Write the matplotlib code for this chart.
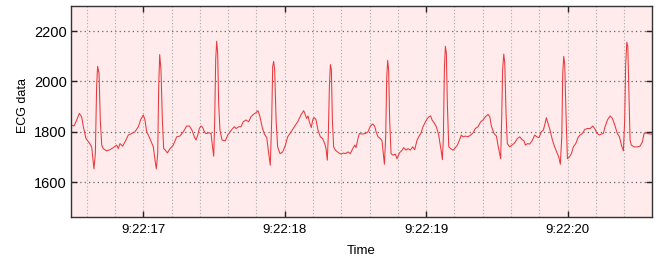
import numpy as np
import matplotlib
matplotlib.use("Agg")
import matplotlib.pyplot as plt
from matplotlib.ticker import MultipleLocator, FuncFormatter

# Time in seconds past 9:22:00, ECG reading
t_sec = [
    16.489, 16.510, 16.524, 16.548, 16.564, 16.576, 16.595, 16.618, 16.635, 16.651,
    16.661, 16.670, 16.677, 16.687, 16.696, 16.706, 16.717, 16.741, 16.765, 16.788,
    16.812, 16.823, 16.835, 16.854, 16.871, 16.894, 16.918, 16.941, 16.965, 16.981,
    17.000, 17.012, 17.024, 17.047, 17.071, 17.083, 17.092, 17.102, 17.109, 17.116,
    17.125, 17.135, 17.144, 17.156, 17.170, 17.189, 17.212, 17.236, 17.259, 17.283,
    17.307, 17.326, 17.344, 17.361, 17.373, 17.385, 17.396, 17.408, 17.420, 17.432,
    17.443, 17.467, 17.479, 17.491, 17.498, 17.505, 17.512, 17.519, 17.526, 17.533,
    17.542, 17.557, 17.580, 17.597, 17.613, 17.632, 17.644, 17.656, 17.674, 17.691,
    17.707, 17.726, 17.745, 17.762, 17.778, 17.797, 17.811, 17.825, 17.840, 17.856,
    17.873, 17.887, 17.898, 17.908, 17.915, 17.922, 17.929, 17.939, 17.950, 17.967,
    17.986, 18.005, 18.021, 18.045, 18.068, 18.092, 18.115, 18.134, 18.146, 18.155,
    18.165, 18.174, 18.188, 18.198, 18.207, 18.221, 18.235, 18.252, 18.268, 18.283,
    18.292, 18.301, 18.308, 18.316, 18.323, 18.330, 18.337, 18.346, 18.358, 18.382,
    18.400, 18.417, 18.429, 18.448, 18.464, 18.481, 18.495, 18.504, 18.518, 18.528,
    18.547, 18.570, 18.589, 18.606, 18.622, 18.636, 18.646, 18.660, 18.676, 18.688,
    18.697, 18.705, 18.714, 18.721, 18.728, 18.735, 18.742, 18.752, 18.766, 18.782,
    18.794, 18.811, 18.830, 18.841, 18.858, 18.872, 18.888, 18.905, 18.919, 18.936,
    18.954, 18.962, 18.978, 18.995, 19.009, 19.021, 19.032, 19.042, 19.056, 19.072,
    19.089, 19.098, 19.108, 19.115, 19.122, 19.129, 19.136, 19.143, 19.150, 19.160,
    19.174, 19.190, 19.202, 19.221, 19.237, 19.249, 19.261, 19.277, 19.296, 19.315,
    19.332, 19.348, 19.367, 19.386, 19.402, 19.419, 19.438, 19.450, 19.461, 19.480,
    19.497, 19.508, 19.520, 19.527, 19.534, 19.541, 19.549, 19.556, 19.565, 19.574,
    19.591, 19.607, 19.626, 19.645, 19.662, 19.678, 19.692, 19.702, 19.716, 19.732,
    19.749, 19.768, 19.782, 19.798, 19.815, 19.829, 19.841, 19.850, 19.862, 19.876,
    19.893, 19.909, 19.923, 19.938, 19.949, 19.959, 19.966, 19.973, 19.980, 19.989,
    19.999, 20.013, 20.027, 20.041, 20.058, 20.074, 20.088, 20.105, 20.121, 20.140,
    20.159, 20.178, 20.192, 20.206, 20.223, 20.239, 20.253, 20.265, 20.282, 20.301,
    20.317, 20.334, 20.352, 20.367, 20.381, 20.395, 20.404, 20.411, 20.419, 20.426,
    20.433, 20.442, 20.451, 20.470, 20.494, 20.513, 20.529, 20.541, 20.553, 20.565,
    20.583, 20.600,
]
ecg = [
    1827, 1823, 1840, 1873, 1860, 1820, 1773, 1756, 1740, 1653,
    1713, 1980, 2060, 2033, 1847, 1747, 1733, 1724, 1729, 1737,
    1747, 1733, 1753, 1743, 1760, 1787, 1793, 1800, 1820, 1847,
    1867, 1847, 1800, 1773, 1740, 1687, 1653, 1713, 1980, 2107,
    2047, 1847, 1733, 1727, 1716, 1733, 1747, 1780, 1783, 1800,
    1823, 1823, 1807, 1780, 1767, 1787, 1813, 1823, 1817, 1800,
    1793, 1796, 1793, 1733, 1703, 1847, 2087, 2160, 2113, 1913,
    1807, 1767, 1764, 1787, 1800, 1813, 1820, 1813, 1820, 1820,
    1840, 1847, 1840, 1860, 1869, 1876, 1884, 1860, 1820, 1791,
    1777, 1713, 1667, 1847, 2060, 2080, 2047, 1847, 1740, 1713,
    1720, 1747, 1780, 1800, 1820, 1840, 1867, 1884, 1867, 1853,
    1863, 1840, 1817, 1847, 1857, 1849, 1807, 1780, 1773, 1753,
    1733, 1687, 1780, 1980, 2067, 2047, 1847, 1740, 1727, 1716,
    1711, 1716, 1713, 1720, 1713, 1733, 1747, 1737, 1773, 1793,
    1791, 1793, 1800, 1823, 1831, 1823, 1800, 1780, 1773, 1764,
    1713, 1671, 1780, 2007, 2084, 2047, 1847, 1713, 1707, 1711,
    1693, 1716, 1727, 1737, 1727, 1733, 1727, 1740, 1729, 1767,
    1787, 1793, 1820, 1840, 1853, 1860, 1863, 1847, 1836, 1820,
    1787, 1753, 1720, 1689, 1780, 2047, 2140, 2113, 1913, 1740,
    1733, 1727, 1733, 1747, 1769, 1787, 1780, 1783, 1780, 1787,
    1796, 1813, 1820, 1840, 1847, 1860, 1869, 1860, 1823, 1793,
    1783, 1747, 1713, 1693, 1847, 2047, 2109, 2073, 1873, 1753,
    1740, 1747, 1756, 1773, 1780, 1769, 1764, 1747, 1753, 1751,
    1764, 1787, 1780, 1777, 1800, 1807, 1833, 1856, 1833, 1807,
    1767, 1740, 1720, 1700, 1671, 1780, 2033, 2100, 2067, 1873,
    1693, 1700, 1713, 1740, 1753, 1777, 1787, 1793, 1809, 1813,
    1813, 1823, 1813, 1796, 1787, 1791, 1793, 1820, 1847, 1863,
    1853, 1827, 1793, 1780, 1747, 1724, 1847, 2067, 2156, 2140,
    1980, 1767, 1747, 1740, 1740, 1743, 1760, 1793, 1796, 1793,
    1791, 1791,
]

plt.rcParams['font.family'] = ['Liberation Sans', 'DejaVu Sans']
plt.rcParams['font.size'] = 9.5

fig = plt.figure(figsize=(6.65, 2.62), dpi=100)
ax = fig.add_axes([0.1068, 0.1706, 0.8732, 0.8064])
ax.set_facecolor('#ffebeb')

ax.plot(t_sec, ecg, color='#e8383d', linewidth=0.75)

ax.set_xlim(16.489, 20.595)
ax.set_ylim(1460, 2300)

ax.xaxis.set_major_locator(MultipleLocator(1))
ax.xaxis.set_minor_locator(MultipleLocator(0.2))
ax.xaxis.set_major_formatter(FuncFormatter(lambda v, p: '9:22:%02d' % round(v)))
ax.set_yticks([1600, 1800, 2000, 2200])

ax.grid(which='major', axis='y', linestyle=(0, (1, 2.5)), color='#666666', linewidth=0.9)
ax.grid(which='both', axis='x', linestyle=(0, (1, 2)), color='#aaaaaa', linewidth=0.8)
ax.set_axisbelow(True)

ax.tick_params(which='major', direction='in', length=4, width=1, top=True, right=True,
               colors='#222222', labelcolor='black')
ax.tick_params(which='minor', length=0)
ax.tick_params(axis='x', pad=5)
ax.tick_params(axis='y', pad=3, labelsize=10.5)
for s in ax.spines.values():
    s.set_color('#333333')
    s.set_linewidth(1.0)

ax.set_xlabel('Time', labelpad=6)
ax.set_ylabel('ECG data', fontsize=9)
ax.yaxis.set_label_coords(-0.073, 0.53)

fig.savefig('out.png', dpi=100)
